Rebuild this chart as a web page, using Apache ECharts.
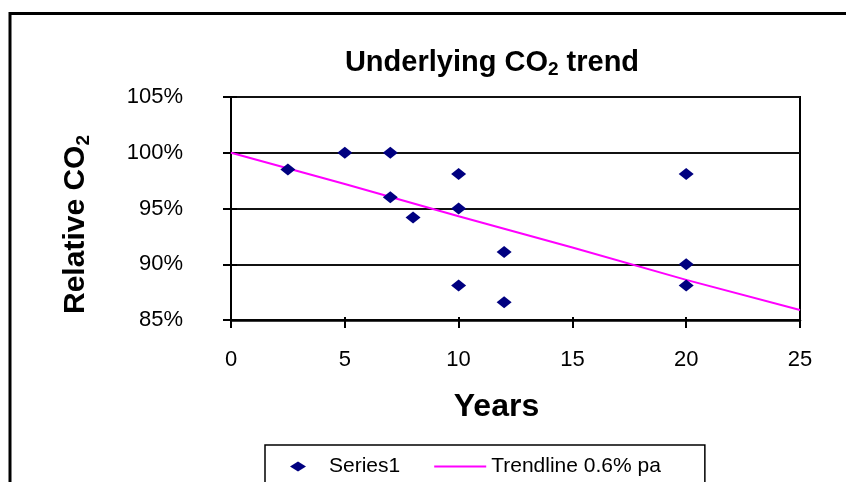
<!DOCTYPE html>
<html>
<head>
<meta charset="utf-8">
<script src="https://cdn.jsdelivr.net/npm/echarts@6/dist/echarts.min.js"></script>
<style>
  html, body { margin: 0; padding: 0; background: #fff; }
  #chart { width: 846px; height: 482px; }
</style>
</head>
<body>
<div id="chart"></div>
<script>
// Observed emissions relative to the starting level, by years elapsed
const years = [2.5, 5, 7, 7, 8, 10, 10, 10, 12, 12, 20, 20, 20];
const relativeCO2 = [98.5, 100, 100, 96, 94.2, 98.1, 95, 88.1, 91.1, 86.6, 98.1, 90, 88.1];

// Fitted trend (0.6% per annum decline)
const trendYears = [0, 5, 10, 15, 20, 25];
const trendValues = [100, 97.2, 94.3, 91.5, 88.6, 85.9];

const yTicks = [85, 90, 95, 100, 105];
const xTicks = [0, 5, 10, 15, 20, 25];

const FONT = '"Liberation Sans", Arial, sans-serif';

// Legend icons sized to a 52x14 box: a small flat diamond and a thin line
const DIAMOND_ICON = 'path://M0,0L0,0M52,14L52,14M18,7L26,2L34,7L26,12Z';
const LINE_ICON = 'path://M0,0L0,0M52,14L52,14M0,6L52,6L52,8L0,8Z';

const chart = echarts.init(document.getElementById('chart'), null, { renderer: 'canvas' });

const subStyle = (size, drop) => ({
  fontFamily: FONT, fontWeight: 'bold', fontSize: size,
  lineHeight: size + 2, padding: [drop, 0, 0, 0], verticalAlign: 'bottom'
});

chart.setOption({
  backgroundColor: '#fff',
  animation: false,
  title: {
    text: 'Underlying CO{sub|2} trend',
    left: 487,
    textAlign: 'center',
    top: 41,
    textStyle: {
      fontFamily: FONT, fontWeight: 'bold', fontSize: 29, color: '#000', lineHeight: 33,
      rich: { sub: subStyle(19, 12) }
    }
  },
  legend: {
    left: 265,
    top: 445,
    padding: [11, 44, 11, 7],
    itemWidth: 52,
    itemHeight: 14,
    itemGap: 34,
    borderColor: '#000',
    borderWidth: 1.5,
    textStyle: { fontFamily: FONT, fontSize: 21, color: '#000' },
    data: [
      { name: 'Series1', icon: DIAMOND_ICON },
      { name: 'Trendline 0.6% pa', icon: LINE_ICON }
    ]
  },
  grid: {
    show: true,
    left: 231, right: 46, top: 97, bottom: 162,
    borderColor: '#000', borderWidth: 2,
    backgroundColor: '#fff'
  },
  xAxis: [{
    type: 'value',
    min: xTicks[0], max: xTicks[xTicks.length - 1], interval: 5,
    name: 'Years',
    nameLocation: 'middle',
    nameGap: 71,
    nameTextStyle: {
      fontFamily: FONT, fontWeight: 'bold', fontSize: 32, color: '#000',
      padding: [0, 38, 0, 0]
    },
    axisLine: { show: true, lineStyle: { color: '#000', width: 2.5 } },
    axisTick: { show: true, length: 8, lineStyle: { color: '#000', width: 2 } },
    axisLabel: { margin: 29, fontFamily: FONT, fontSize: 22, color: '#000' },
    splitLine: { show: false }
  }, {
    type: 'value', position: 'bottom',
    min: xTicks[0], max: xTicks[xTicks.length - 1], interval: 5,
    axisLine: { show: false },
    axisTick: { show: true, inside: true, length: 3, lineStyle: { color: '#000', width: 2 } },
    axisLabel: { show: false },
    splitLine: { show: false }
  }],
  yAxis: [{
    type: 'value',
    min: yTicks[0], max: yTicks[yTicks.length - 1], interval: 5,
    name: 'Relative CO{sub|2}',
    nameLocation: 'middle',
    nameRotate: 90,
    nameGap: 138,
    nameTextStyle: {
      fontFamily: FONT, fontWeight: 'bold', fontSize: 30, color: '#000', lineHeight: 34,
      padding: [0, 32, 0, 0],
      rich: { sub: subStyle(19, 13) }
    },
    axisLine: { show: true, lineStyle: { color: '#000', width: 2 } },
    axisTick: { show: true, length: 8, lineStyle: { color: '#000', width: 2 } },
    axisLabel: {
      margin: 48, fontFamily: FONT, fontSize: 22, color: '#000',
      formatter: v => v + '%'
    },
    splitLine: { show: true, lineStyle: { color: '#111', width: 2 } }
  }, {
    type: 'value', position: 'left',
    min: yTicks[0], max: yTicks[yTicks.length - 1], interval: 5,
    axisLine: { show: false },
    axisTick: { show: true, inside: true, length: 6, lineStyle: { color: '#000', width: 2 } },
    axisLabel: { show: false },
    splitLine: { show: false }
  }],
  graphic: [{
    type: 'rect',
    shape: { x: 10, y: 13.5, width: 1000, height: 700 },
    style: { fill: 'none', stroke: '#000', lineWidth: 3 },
    z: 100, silent: true
  }],
  series: [{
    name: 'Trendline 0.6% pa',
    type: 'line',
    data: trendYears.map((x, i) => [x, trendValues[i]]),
    symbol: 'none',
    lineStyle: { color: '#ff00ff', width: 2 },
    itemStyle: { color: '#ff00ff' },
    z: 2
  }, {
    name: 'Series1',
    type: 'scatter',
    data: years.map((x, i) => [x, relativeCO2[i]]),
    symbol: 'diamond',
    symbolSize: [15, 12],
    itemStyle: { color: '#000080', opacity: 1 },
    z: 3
  }]
});
</script>
</body>
</html>
